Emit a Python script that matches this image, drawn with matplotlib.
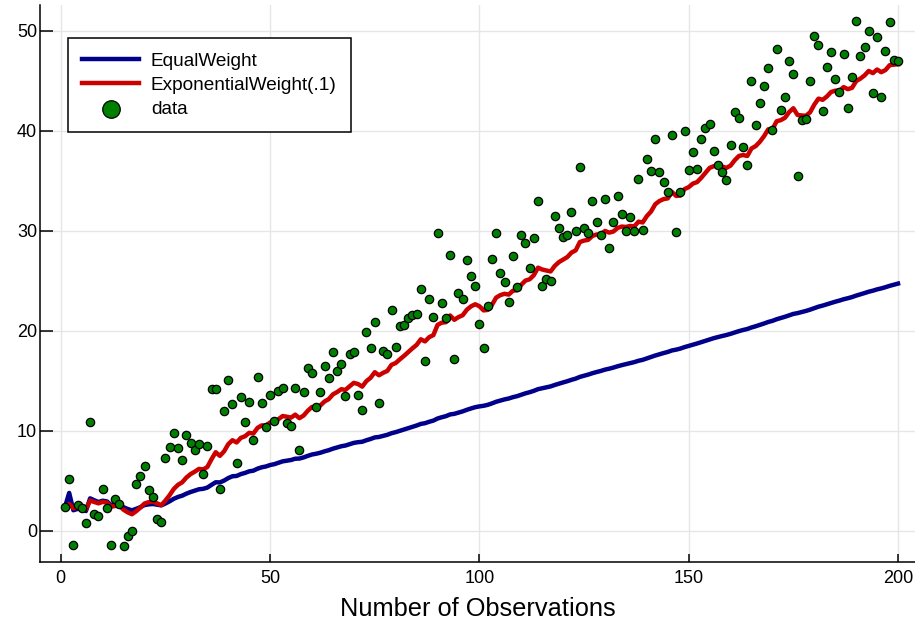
import matplotlib
matplotlib.use("Agg")
import matplotlib.pyplot as plt

obs = list(range(1, 201))
data = [
    2.4, 5.2, -1.4, 2.6, 2.3, 0.8, 10.9, 1.7, 1.5, 4.2,
    2.3, -1.4, 3.2, 2.7, -1.5, -0.5, 0.0, 4.7, 5.5, 6.5,
    4.1, 3.4, 1.2, 0.9, 7.3, 8.4, 9.8, 8.3, 7.1, 9.6,
    8.8, 8.1, 8.7, 5.7, 8.5, 14.2, 14.2, 4.2, 12.0, 15.1,
    12.7, 6.8, 13.4, 10.9, 12.9, 9.1, 15.4, 12.8, 10.4, 13.6,
    11.0, 14.0, 14.3, 10.8, 10.5, 14.3, 8.1, 13.9, 16.3, 15.8,
    12.4, 13.9, 16.5, 15.3, 17.9, 16.0, 16.7, 13.5, 17.7, 17.9,
    13.6, 12.1, 19.9, 18.3, 20.9, 12.8, 18.0, 17.7, 22.1, 18.4,
    20.5, 20.6, 21.3, 21.6, 21.7, 24.2, 17.0, 23.2, 21.4, 29.8,
    22.8, 21.3, 27.6, 17.2, 23.8, 23.2, 27.1, 25.5, 24.5, 20.7,
    18.3, 22.5, 27.2, 29.8, 25.8, 24.9, 22.9, 27.5, 24.4, 29.6,
    28.8, 26.3, 29.3, 33.0, 24.5, 25.2, 25.0, 31.5, 30.3, 29.4,
    29.6, 31.9, 30.0, 36.4, 30.3, 29.8, 33.0, 30.9, 29.6, 33.2,
    28.3, 30.9, 33.5, 31.7, 30.0, 31.4, 30.0, 35.2, 30.1, 37.2,
    36.0, 39.2, 35.9, 34.9, 33.9, 39.6, 29.9, 33.9, 40.0, 36.1,
    37.9, 36.2, 39.2, 40.3, 40.7, 38.0, 36.6, 35.9, 35.1, 38.6,
    41.9, 41.3, 38.4, 36.6, 45.0, 40.6, 42.8, 44.5, 46.3, 40.1,
    48.2, 42.1, 43.4, 47.0, 45.7, 35.5, 41.1, 41.2, 45.0, 49.5,
    48.6, 42.0, 46.4, 47.9, 45.2, 43.9, 47.7, 42.3, 45.4, 51.0,
    47.5, 48.4, 50.0, 43.8, 49.4, 43.4, 48.0, 50.9, 47.1, 47.0,
]

xticks = [0, 50, 100, 150, 200]
yticks = [0, 10, 20, 30, 40, 50]

#running estimates: equal weight (cumulative mean) and exponential weight .1
lam = 0.1
equal_w, expo_w = [], []
total = 0.0
for i, v in enumerate(data):
    total += v
    equal_w.append(total / (i + 1))
    if i == 0:
        expo_w.append(v)
    else:
        expo_w.append(expo_w[-1] + lam * (v - expo_w[-1]))

plt.rcParams['font.family'] = ['Liberation Sans', 'DejaVu Sans']

fig = plt.figure(figsize=(9.15, 6.28), dpi=100)
ax = fig.add_axes([40 / 915, 66.3 / 628, 883 / 915, 556.8 / 628])

ax.plot(obs, equal_w, color='#00008B', lw=3.2, label='EqualWeight', zorder=3)
ax.plot(obs, expo_w, color='#CD0000', lw=3.2, label='ExponentialWeight(.1)', zorder=4)
ax.scatter(obs, data, s=36, color='#008000', edgecolors='black',
           linewidths=0.9, label='data', zorder=5)

#widen limits 3% like Plots.jl does
xspan = obs[-1] - obs[0]
ax.set_xlim(obs[0] - 0.03 * xspan, obs[-1] + 0.03 * xspan)
yspan = max(data) - min(data)
ax.set_ylim(min(data) - 0.03 * yspan, max(data) + 0.03 * yspan)

ax.set_xticks(xticks)
ax.set_yticks(yticks)
ax.grid(True, color='#e6e6e6', lw=1.0, zorder=0)
ax.set_axisbelow(True)

for side in ['top', 'right']:
    ax.spines[side].set_visible(False)
for side in ['left', 'bottom']:
    ax.spines[side].set_linewidth(1.1)

ax.tick_params(axis='x', direction='in', length=6, width=1.1, pad=6, labelsize=13)
ax.tick_params(axis='y', direction='in', length=9.5, width=1.1, pad=2, labelsize=13)

ax.set_xlabel("Number of Observations", fontsize=18.3)
ax.xaxis.set_label_coords(0.496, -0.064)

leg = ax.legend(loc='upper left', bbox_to_anchor=(68 / 915, 1 - 38 / 628),
                bbox_transform=fig.transFigure, fontsize=13.7, frameon=True,
                fancybox=False, edgecolor='black', framealpha=1,
                handlelength=3.0, handletextpad=0.6, labelspacing=0.35,
                borderpad=0.75, markerscale=2.1, borderaxespad=0)
leg.get_frame().set_linewidth(1.1)

fig.savefig("out.png", dpi=100)
